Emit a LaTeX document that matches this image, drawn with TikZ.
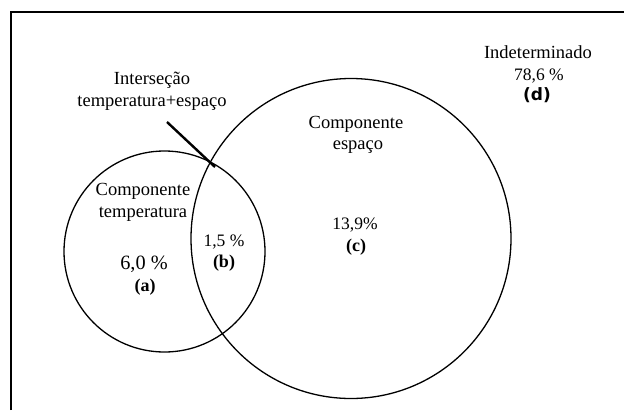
\documentclass[tikz,border=0pt]{standalone}
\usepackage{fontspec}
\setmainfont{Liberation Serif}
\newfontfamily\tagfont{DejaVu Sans}
\tikzstyle{venn} = [
  x=1pt,
  y=-1pt,
  line width=1.3pt,
]
\tikzstyle{lbl} = [inner sep=0pt, anchor=base, font=\fontsize{18.5}{22}\selectfont]
\tikzstyle{pct} = [lbl, font=\fontsize{17.5}{21}\selectfont]
\tikzstyle{tag} = [lbl, font=\fontsize{18}{21}\selectfont\bfseries]

\begin{document}
\begin{tikzpicture}[venn]
  \useasboundingbox (0,0) rectangle (624,410);
  \def\radiusA{100.5pt}
  \def\radiusB{160pt}

  \coordinate (A) at (164.5,251.5);
  \coordinate (B) at (351,238.5);

  % Frame
  \draw[line width=1.6pt] (11,410) -- (11,12) -- (624,12);

  % Circles
  \draw (A) circle(\radiusA);
  \draw (B) circle(\radiusB);

  % Pointer to the intersection
  \coordinate (ptrStart) at (167,122);
  \coordinate (ptrEnd) at (215,167);
  \draw[line width=2.4pt] (ptrStart) -- (ptrEnd);

  % Labels
  \node[lbl] (int1) at (152,84) {Interseção};
  \node[lbl] (int2) at (152,106) {temperatura+espaço};

  \node[lbl] (esp1) at (356,128) {Componente};
  \node[lbl] (esp2) at (358,149) {espaço};

  \node[lbl] (ind) at (538,58) {Indeterminado};
  \node[pct] (indPct) at (539,80) {78,6 \%};
  \node[lbl, font=\tagfont\fontsize{17}{20}\selectfont\bfseries] (indTag) at (537,100) {(d)};

  \node[lbl] (temp1) at (143,195) {Componente};
  \node[lbl] (temp2) at (143,217) {temperatura};

  \node[lbl, font=\fontsize{20.3}{24}\selectfont] (pctA) at (144,269) {6,0 \%};
  \node[tag] (tagA) at (145,291) {(a)};

  \node[pct] (pctB) at (224,246) {1,5 \%};
  \node[tag] (tagB) at (224,267) {(b)};

  \node[pct] (pctC) at (355,229) {13,9\%};
  \node[tag] (tagC) at (356,251) {(c)};
\end{tikzpicture}
\end{document}
